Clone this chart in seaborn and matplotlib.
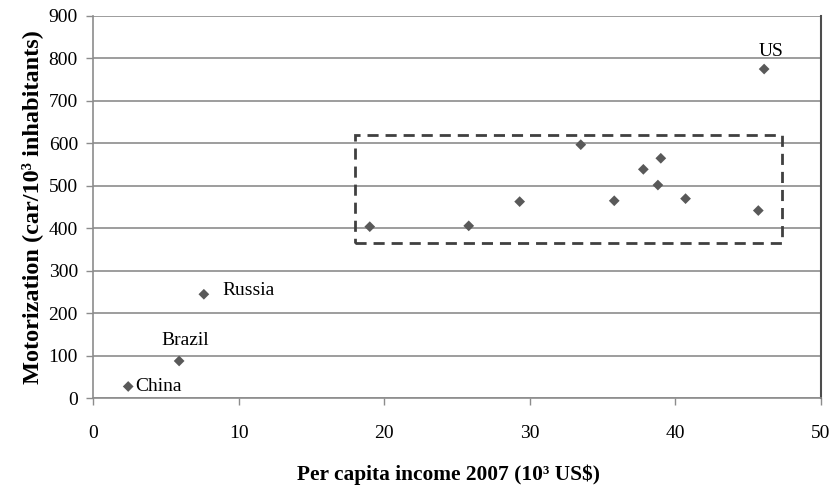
import matplotlib
matplotlib.use("Agg")
import matplotlib.pyplot as plt
import seaborn as sns
import pandas as pd
from matplotlib.patches import Rectangle

income = [2.4, 5.9, 7.6, 19.0, 25.8, 29.3, 33.5, 35.8, 37.8, 39.0, 38.8, 40.7, 45.7, 46.1]
motor = [28, 88, 245, 404, 406, 463, 597, 465, 539, 565, 502, 470, 442, 775]
names = ["China", "Brazil", "Russia", "", "", "", "", "", "", "", "", "", "", "US"]

df = pd.DataFrame({"income": income, "motor": motor, "name": names})

sns.set_theme(style="white")
plt.rcParams["font.family"] = ["Liberation Serif", "DejaVu Serif"]
plt.rcParams["text.color"] = "black"
plt.rcParams["axes.labelcolor"] = "black"

fig = plt.figure(figsize=(8.35, 4.9), dpi=100)
ax = fig.add_axes([0.1117, 0.187, 0.8714, 0.7805])

sns.scatterplot(data=df, x="income", y="motor", marker="D", color="#595959",
                s=30, edgecolor="none", ax=ax, zorder=3)

ax.set_xlim(0, 50)
ax.set_ylim(0, 900)
ax.set_xticks(range(0, 51, 10))
ax.set_yticks(range(0, 901, 100))
ax.yaxis.grid(True, color="#8c8c8c", linewidth=1.2)
ax.xaxis.grid(False)
for side in ["left", "bottom"]:
    ax.spines[side].set_color("#8c8c8c")
    ax.spines[side].set_linewidth(1.2)
ax.spines["top"].set_visible(False)
ax.spines["right"].set_color("#4d4d4d")
ax.spines["right"].set_linewidth(1.5)
ax.tick_params(axis="both", direction="out", length=5, width=1, color="#8c8c8c",
               labelsize=14, labelcolor="black", bottom=True, left=True)
ax.tick_params(axis="x", pad=14)
ax.tick_params(axis="y", pad=6)

ax.set_xlabel("Per capita income 2007 (10³ US$)", fontsize=15.4, fontweight="bold")
ax.xaxis.set_label_coords(0.488, -0.172)
ax.set_ylabel("Motorization (car/10³ inhabitants)", fontsize=17.5, fontweight="bold", labelpad=4)

offsets = {"China": (0.5, 0, "left", "center"),
           "Brazil": (0.45, 28, "center", "bottom"),
           "Russia": (1.3, 10, "left", "center"),
           "US": (0.5, 22, "center", "bottom")}
for x, y, n in zip(income, motor, names):
    if n:
        dx, dy, ha, va = offsets[n]
        ax.text(x + dx, y + dy, n, ha=ha, va=va, fontsize=14, color="black")

box = Rectangle((18.0, 365), 29.35, 254, fill=False, edgecolor="#404040",
                linewidth=2, linestyle=(0, (4, 2.5)), zorder=4)
ax.add_patch(box)

fig.savefig("out.png", dpi=100)
